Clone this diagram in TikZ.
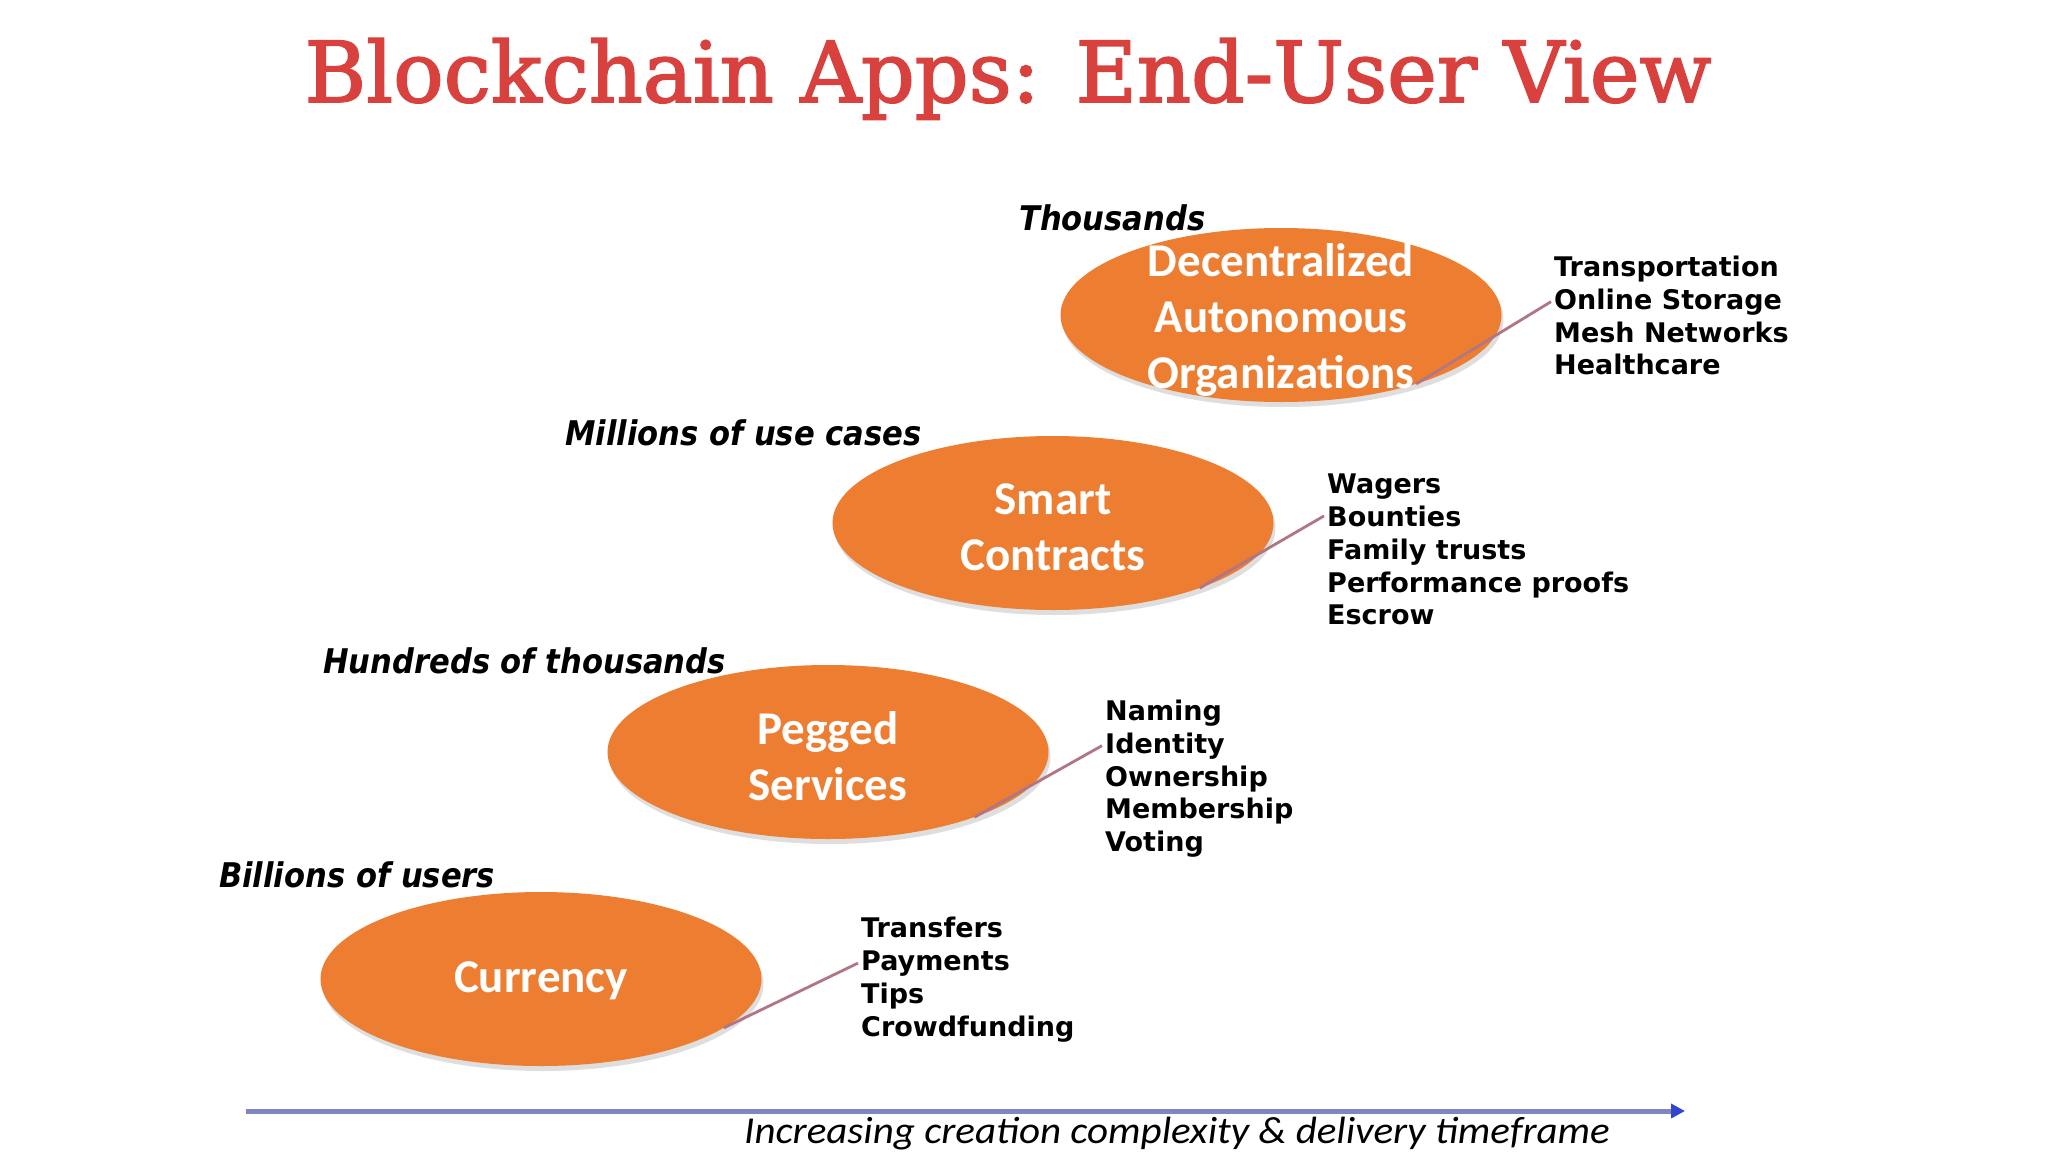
\documentclass[tikz,border=0pt]{standalone}
\usepackage{fontspec}
\setmainfont{DejaVu Sans}
\newfontfamily\titlefont[FakeBold=2]{DejaVu Serif}
\newfontfamily\listfont{DejaVu Sans}
\newfontfamily\labfont{DejaVu Sans Condensed}
\newfontfamily\blobfont{Carlito}
\usetikzlibrary{shapes.geometric,arrows.meta,shadows}
\definecolor{titlered}{HTML}{D8413D}
\definecolor{blob}{HTML}{ED7D31}
\definecolor{conn}{HTML}{B07683}
\definecolor{axis}{HTML}{8087C0}
\definecolor{axtip}{HTML}{3346CF}
\tikzset{
  blobshape/.style={ellipse, fill=blob, draw=none, minimum width=441pt, minimum height=174pt, inner sep=0pt,
    drop shadow={shadow xshift=2pt, shadow yshift=-5pt, opacity=0.13, fill=black}},
  blobtext/.style={text=white, align=center, inner sep=0pt, font=\blobfont\bfseries\fontsize{47}{56}\selectfont},
  listitem/.style={anchor=base west, inner sep=0pt, font=\listfont\bfseries\fontsize{27}{32}\selectfont},
  tierlabel/.style={anchor=base west, inner sep=0pt, font=\labfont\bfseries\itshape\fontsize{34}{38}\selectfont},
  connline/.style={draw=conn, line width=2.8pt},
}
\begin{document}
\begin{tikzpicture}[x=1pt,y=-1pt]
\useasboundingbox (0,0) rectangle (2048,1152);
\fill[white] (0,0) rectangle (2048,1152);

% title
\node[inner sep=0pt, anchor=base, text=titlered, font=\titlefont\fontsize{84}{90}\selectfont] (title) at (1008,102) {Blockchain Apps: End-User View};

% ellipses
\node[blobshape] (dao) at (1281,315) {};
\node[blobtext] (daot) at (1281,320) {Decentralized\\Autonomous\\Organizations};
\node[blobshape] (sc) at (1053,523) {};
\node[blobtext] (sct) at (1053,527) {Smart\\Contracts};
\node[blobshape] (peg) at (828,752) {};
\node[blobtext] (pegt) at (828,756) {Pegged\\Services};
\node[blobshape] (cur) at (541,979) {};
\node[blobtext] (curt) at (541,981) {Currency};

% tier labels
\node[tierlabel] (l1) at (1019,230) {Thousands};
\node[tierlabel] (l2) at (565,445) {Millions of use cases};
\node[tierlabel] (l3) at (323,673) {Hundreds of thousands};
\node[tierlabel] (l4) at (219,887) {Billions of users};

% lists
\node[listitem] (d1) at (1554,276) {Transportation};
\node[listitem] (d2) at (1554,309) {Online Storage};
\node[listitem] (d3) at (1554,342) {Mesh Networks};
\node[listitem] (d4) at (1554,374) {Healthcare};

\node[listitem] (s1) at (1327,493) {Wagers};
\node[listitem] (s2) at (1327,526) {Bounties};
\node[listitem] (s3) at (1327,559) {Family trusts};
\node[listitem] (s4) at (1327,592) {Performance proofs};
\node[listitem] (s5) at (1327,624) {Escrow};

\node[listitem] (p1) at (1105,720) {Naming};
\node[listitem] (p2) at (1105,753) {Identity};
\node[listitem] (p3) at (1105,786) {Ownership};
\node[listitem] (p4) at (1105,818) {Membership};
\node[listitem] (p5) at (1105,851) {Voting};

\node[listitem] (c1) at (861,937) {Transfers};
\node[listitem] (c2) at (861,970) {Payments};
\node[listitem] (c3) at (861,1003) {Tips};
\node[listitem] (c4) at (861,1036) {Crowdfunding};

% connectors
\draw[connline] (dao.-27) -- ([xshift=-3pt]d2.west);
\draw[connline] (sc.-24) -- ([xshift=-3pt]s2.west);
\draw[connline] (peg.-24) -- ([xshift=-3pt]p2.west);
\draw[connline] (cur.-15) -- ([xshift=-3pt]c2.west);

% axis
\coordinate (axstart) at (246,1111);
\coordinate (axend) at (1685,1111);
\draw[draw=axis, line width=5pt, -{Triangle[length=14pt,width=14pt,fill=axtip,color=axtip]}] (axstart) -- (axend);
\node[inner sep=0pt, anchor=base, xscale=1.08, transform shape, font=\blobfont\itshape\fontsize{38}{40}\selectfont] (axlabel) at (1177,1143) {Increasing creation complexity \& delivery timeframe};
\end{tikzpicture}
\end{document}
